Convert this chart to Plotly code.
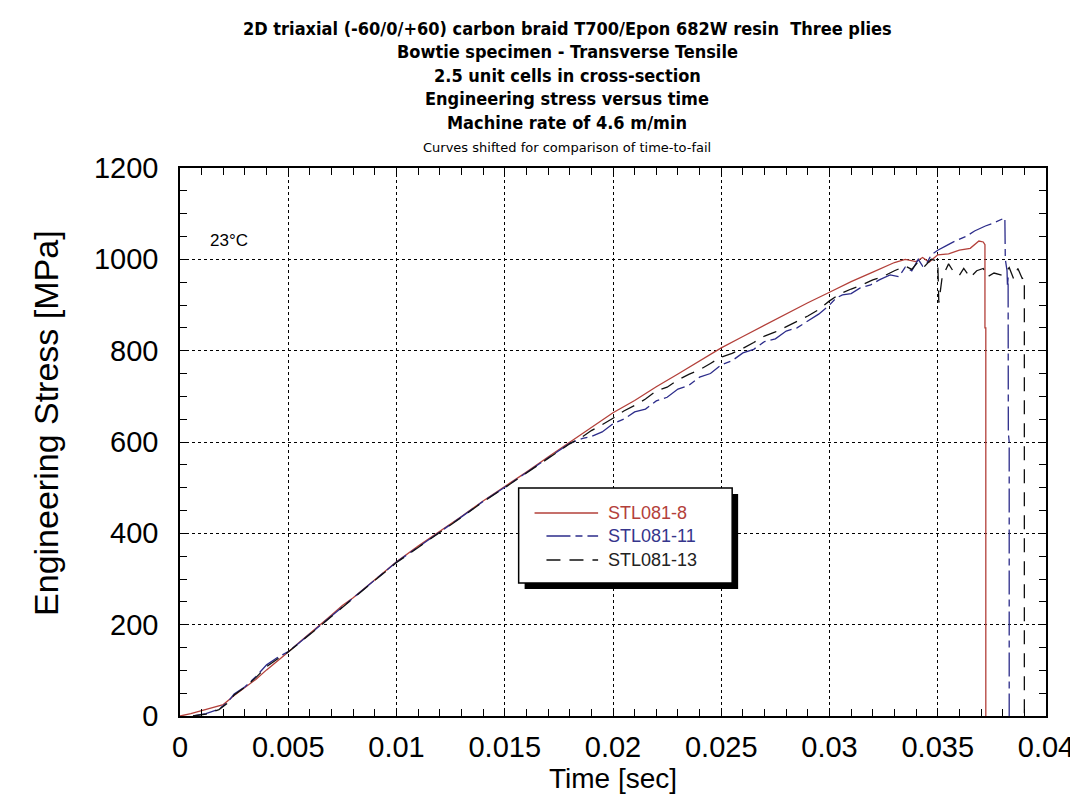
import plotly.graph_objects as go

# ---------------- data ----------------
series_names = ["STL081-8", "STL081-11", "STL081-13"]

t_stl8 = [0, 0.0005, 0.001, 0.0015, 0.002, 0.0025, 0.003, 0.0035, 0.004, 0.0045,
          0.005, 0.0055, 0.006, 0.0065, 0.007, 0.0075, 0.008, 0.0085, 0.009, 0.0095,
          0.010, 0.011, 0.012, 0.013, 0.014, 0.015, 0.016, 0.017, 0.018, 0.019,
          0.020, 0.021, 0.022, 0.023, 0.024, 0.025, 0.026, 0.027, 0.028, 0.029,
          0.030, 0.031, 0.032, 0.033, 0.0335, 0.034, 0.0343, 0.0346, 0.035, 0.0355,
          0.036, 0.0365, 0.0369, 0.0371, 0.03718, 0.03718, 0.03722, 0.03722]
s_stl8 = [0, 5, 12, 18, 25, 45, 62, 80, 101, 120,
          140, 161, 180, 201, 221, 242, 259, 279, 298, 318,
          338, 372, 404, 437, 471, 502, 534, 567, 599, 631,
          664, 691, 721, 749, 777, 806, 831, 856, 880, 905,
          928, 951, 972, 993, 1000, 995, 1004, 994, 1010, 1012,
          1020, 1024, 1040, 1038, 1032, 850, 850, 0]

t_stl11 = [0.0006, 0.0012, 0.0018, 0.0022, 0.0025, 0.003, 0.0035, 0.004, 0.0045, 0.005,
           0.0055, 0.006, 0.007, 0.008, 0.009, 0.010, 0.011, 0.012, 0.013, 0.014,
           0.015, 0.016, 0.017, 0.018, 0.0186, 0.0190, 0.0195, 0.0200, 0.0205, 0.0210,
           0.0215, 0.0220, 0.0225, 0.0230, 0.0235, 0.0240, 0.0245, 0.0250, 0.0255, 0.0260,
           0.0265, 0.0270, 0.0275, 0.0280, 0.0285, 0.0290, 0.0295, 0.0300, 0.0303, 0.0306,
           0.0310, 0.0314, 0.0319, 0.0323, 0.0328, 0.0332, 0.0335, 0.0338, 0.0341, 0.0343,
           0.0345, 0.0347, 0.035, 0.0354, 0.0358, 0.0363, 0.0367, 0.0372, 0.0376, 0.0381,
           0.03812, 0.0382, 0.03822, 0.03825, 0.03826, 0.0383, 0.0383]
s_stl11 = [0, 5, 15, 30, 48, 64, 86, 112, 128, 141,
           160, 180, 220, 260, 298, 337, 371, 403, 436, 470,
           501, 533, 565, 597, 608, 612, 622, 640, 650, 666,
           672, 690, 698, 716, 724, 742, 750, 769, 778, 795,
           803, 820, 826, 843, 850, 866, 880, 900, 915, 922,
           925, 937, 944, 955, 966, 962, 983, 975, 1000, 985,
           992, 1010, 1020, 1030, 1040, 1050, 1062, 1073, 1080, 1091,
           1000, 975, 940, 960, 620, 600, 0]

t_stl13 = [0.0006, 0.0012, 0.0018, 0.0022, 0.0025, 0.003, 0.0035, 0.004, 0.0045, 0.005,
           0.0055, 0.006, 0.007, 0.008, 0.009, 0.010, 0.011, 0.012, 0.013, 0.014,
           0.015, 0.016, 0.017, 0.018, 0.0186, 0.0190, 0.0195, 0.0200, 0.0205, 0.0210,
           0.0215, 0.0220, 0.0225, 0.0230, 0.0235, 0.0240, 0.0245, 0.0250, 0.0255, 0.0260,
           0.0265, 0.0270, 0.0275, 0.0280, 0.0285, 0.0290, 0.0295, 0.0300, 0.0305, 0.0310,
           0.0315, 0.0320, 0.0325, 0.0330, 0.0335, 0.0338, 0.0341, 0.0344, 0.0347, 0.0350,
           0.03505, 0.0352, 0.0355, 0.0357, 0.036, 0.0362, 0.0365, 0.0368, 0.0371, 0.0373,
           0.0376, 0.0380, 0.0383, 0.0385, 0.0387, 0.0389, 0.0390, 0.0390]
s_stl13 = [0, 4, 14, 28, 46, 63, 84, 108, 125, 140,
           159, 179, 219, 259, 297, 336, 370, 402, 435, 469,
           500, 532, 564, 596, 612, 625, 638, 652, 668, 680,
           694, 712, 720, 736, 748, 758, 772, 786, 794, 805,
           818, 832, 841, 852, 864, 876, 890, 909, 925, 935,
           944, 955, 963, 975, 985, 978, 995, 985, 1000, 996,
           905, 960, 990, 975, 965, 980, 960, 975, 980, 962,
           970, 965, 982, 958, 980, 958, 960, 0]

x_tick_vals = [0, 0.005, 0.01, 0.015, 0.02, 0.025, 0.03, 0.035, 0.04]
x_tick_text = ["0", "0.005", "0.01", "0.015", "0.02", "0.025", "0.03", "0.035", "0.04"]
y_tick_vals = [0, 200, 400, 600, 800, 1000, 1200]

title_lines = [
    "2D triaxial (-60/0/+60) carbon braid T700/Epon 682W resin  Three plies",
    "Bowtie specimen - Transverse Tensile",
    "2.5 unit cells in cross-section",
    "Engineering stress versus time",
    "Machine rate of 4.6 m/min",
]
subtitle = "Curves shifted for comparison of time-to-fail"
temperature_label = "23°C"
x_title = "Time [sec]"
y_title = "Engineering Stress [MPa]"

# ---------------- styling ----------------
W, H = 1078, 803
ML, MR, MT, MB = 172, 34, 160, 95
PW, PH = W - ML - MR, H - MT - MB

red = "#b3403a"
blue = "#2c2c8a"
black = "#111111"
colors = [red, blue, black]
dashes = ["solid", "24px,5px,7px,5px", "14px,9px"]

fig = go.Figure()
for name, tt, ss, c, d in zip(series_names, [t_stl8, t_stl11, t_stl13],
                              [s_stl8, s_stl11, s_stl13], colors, dashes):
    fig.add_trace(go.Scatter(x=tt, y=ss, mode="lines", name=name,
                             line=dict(color=c, width=1.3, dash=d),
                             showlegend=False))

sans = "Liberation Sans, Arial, sans-serif"
tick_font = dict(family=sans, size=29, color="black")
axis_common = dict(
    showline=True, linecolor="black", linewidth=1.6, mirror="ticks",
    ticks="inside", ticklen=8, tickwidth=1.2, tickcolor="black",
    showgrid=True, gridcolor="black", gridwidth=1, griddash="dot",
    zeroline=False, tickfont=tick_font,
)
fig.update_xaxes(range=[0, 0.04], tickvals=x_tick_vals, ticktext=x_tick_text,
                 minor=dict(ticks="inside", dtick=0.001, ticklen=7, tickcolor="black",
                            tickwidth=1.2, showgrid=False),
                 title=dict(text=x_title, font=dict(family=sans, size=28, color="black"),
                            standoff=6),
                 ticklabelstandoff=4,
                 **axis_common)
fig.update_yaxes(range=[0, 1200], tickvals=y_tick_vals,
                 minor=dict(ticks="inside", dtick=50, ticklen=7, tickcolor="black",
                            tickwidth=1.2, showgrid=False),
                 ticklabelstandoff=14,
                 **axis_common)

def py(px_from_top):
    return 1 - (px_from_top - MT) / PH

def px(px_from_left):
    return (px_from_left - ML) / PW

annotations = []
# y-axis title
annotations.append(dict(text=y_title, x=px(37), y=py(415), xref="paper", yref="paper",
                        showarrow=False, textangle=-90, xanchor="center", yanchor="middle",
                        font=dict(family=sans, size=34, color="black")))

title_font = dict(family="Liberation Sans Narrow, DejaVu Sans Condensed, Arial Narrow, sans-serif",
                  size=18, color="black")
title_y = [20, 43, 67, 91, 115]
title_cx = 562
for line, yy in zip(title_lines, title_y):
    annotations.append(dict(text="<b>" + line + "</b>", x=px(title_cx), y=py(yy),
                            xref="paper", yref="paper", showarrow=False,
                            xanchor="center", yanchor="middle", font=title_font))
annotations.append(dict(text=subtitle, x=px(title_cx), y=py(140), xref="paper", yref="paper",
                        showarrow=False, xanchor="center", yanchor="middle",
                        font=dict(family="DejaVu Sans, sans-serif", size=13, color="black")))
annotations.append(dict(text=temperature_label, x=0.0013, y=1042, xref="x", yref="y",
                        showarrow=False, xanchor="left", yanchor="middle",
                        font=dict(family=sans, size=17, color="black")))

# ---------------- legend box with drop shadow (drawn manually) ----------------
lx0, lx1, ly0, ly1 = 513, 728, 480, 575
shapes = [
    dict(type="rect", xref="paper", yref="paper", x0=px(lx0 + 6), x1=px(lx1 + 6),
         y0=py(ly1 + 6), y1=py(ly0 + 6), fillcolor="black", line=dict(width=0)),
    dict(type="rect", xref="paper", yref="paper", x0=px(lx0), x1=px(lx1),
         y0=py(ly1), y1=py(ly0), fillcolor="white", line=dict(color="black", width=1.5)),
]
row_y = [505, 528, 552]
text_colors = [red, "#35358c", "#222222"]
for name, c, d, tc, ry in zip(series_names, colors, dashes, text_colors, row_y):
    shapes.append(dict(type="line", xref="paper", yref="paper",
                       x0=px(529) if d == "solid" else px(541), x1=px(593),
                       y0=py(ry), y1=py(ry), line=dict(color=c, width=1.3, dash=d)))
    annotations.append(dict(text=name, x=px(601), y=py(ry), xref="paper", yref="paper",
                            showarrow=False, xanchor="left", yanchor="middle",
                            font=dict(family=sans, size=18, color=tc)))

fig.update_layout(
    width=W, height=H, autosize=False,
    margin=dict(l=ML, r=MR, t=MT, b=MB),
    paper_bgcolor="white", plot_bgcolor="white",
    annotations=annotations, shapes=shapes, showlegend=False,
)

fig.write_html("out.html")
